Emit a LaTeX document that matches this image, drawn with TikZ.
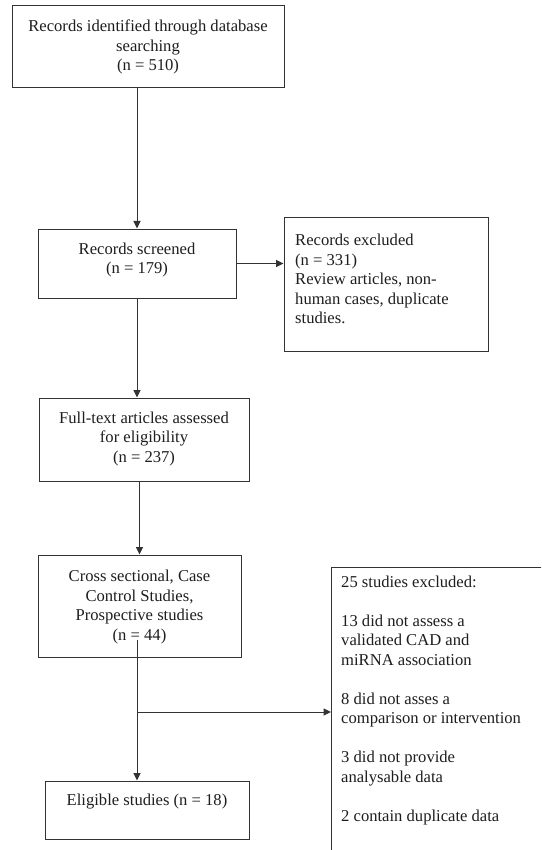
\documentclass[tikz,border=0pt]{standalone}
\usepackage{fontspec}
\setmainfont{Liberation Serif}
\usetikzlibrary{arrows.meta}
\definecolor{linec}{HTML}{333333}
\definecolor{txtc}{HTML}{1E1E1E}
\tikzset{
  boxn/.style={draw=linec, line width=1pt, rectangle, inner sep=0pt},
  txtn/.style={inner sep=0pt, text=txtc, font=\fontsize{16.6}{19.5}\selectfont},
  arr/.style={draw=linec, line width=1pt, -{Triangle[length=7.5pt,width=7pt]}},
  conn/.style={draw=linec, line width=1pt}
}
\begin{document}
\begin{tikzpicture}[x=1pt,y=-1pt]
\clip (0,0) rectangle (541,850);
\fill[white] (0,0) rectangle (541,850);
% boxes
\node[boxn, minimum width=272pt, minimum height=82pt] (b1) at (148,47) {};
\node[boxn, minimum width=198pt, minimum height=69pt] (b2) at (137,263.5) {};
\node[boxn, minimum width=204pt, minimum height=133pt] (ex1) at (386,284.5) {};
\node[boxn, minimum width=210pt, minimum height=83pt] (b3) at (144,439.5) {};
\node[boxn, minimum width=203pt, minimum height=102pt] (b4) at (139.5,606) {};
\node[boxn, minimum width=204pt, minimum height=58pt] (b5) at (147,810) {};
\node[boxn, minimum width=260pt, minimum height=320pt, anchor=north west] (ex2) at (331,567) {};
% texts
\node[txtn, align=center] (t1) at (148,47) {Records identified through database\\searching\\(n = 510)};
\node[txtn, align=center] (t2) at (137,260) {Records screened\\(n = 179)};
\node[txtn, align=left, anchor=west] (tx1) at (295,279) {Records excluded\\(n = 331)\\Review articles, non-\\human cases, duplicate\\studies.};
\node[txtn, align=center] (t3) at (144,439) {Full-text articles assessed\\for eligibility\\(n = 237)};
\node[txtn, align=center] (t4) at (139.5,607) {Cross sectional, Case\\Control Studies,\\Prospective studies\\(n = 44)};
\node[txtn, align=center] (t5) at (147,802) {Eligible studies (n = 18)};
\node[txtn, align=left, anchor=west] (tx2) at (341,700) {25 studies excluded:\\[19.5pt]13 did not assess a\\validated CAD and\\miRNA association\\[19.5pt]8 did not asses a\\comparison or intervention\\[19.5pt]3 did not provide\\analysable data\\[19.5pt]2 contain duplicate data};
% connectors
\draw[arr] (b1.south -| b2.north) -- (b2.north);
\draw[arr] (b2.east) -- (b2.east -| ex1.west);
\draw[arr] (b2.south) -- (b2.south |- b3.north);
\draw[arr] (b3.south -| b4.north) -- (b4.north);
\coordinate (s) at (137,640);
\coordinate (br) at (137,712);
\draw[arr] (s) -- (s |- b5.north);
\draw[arr] (br) -- (br -| ex2.west);
\end{tikzpicture}
\end{document}
